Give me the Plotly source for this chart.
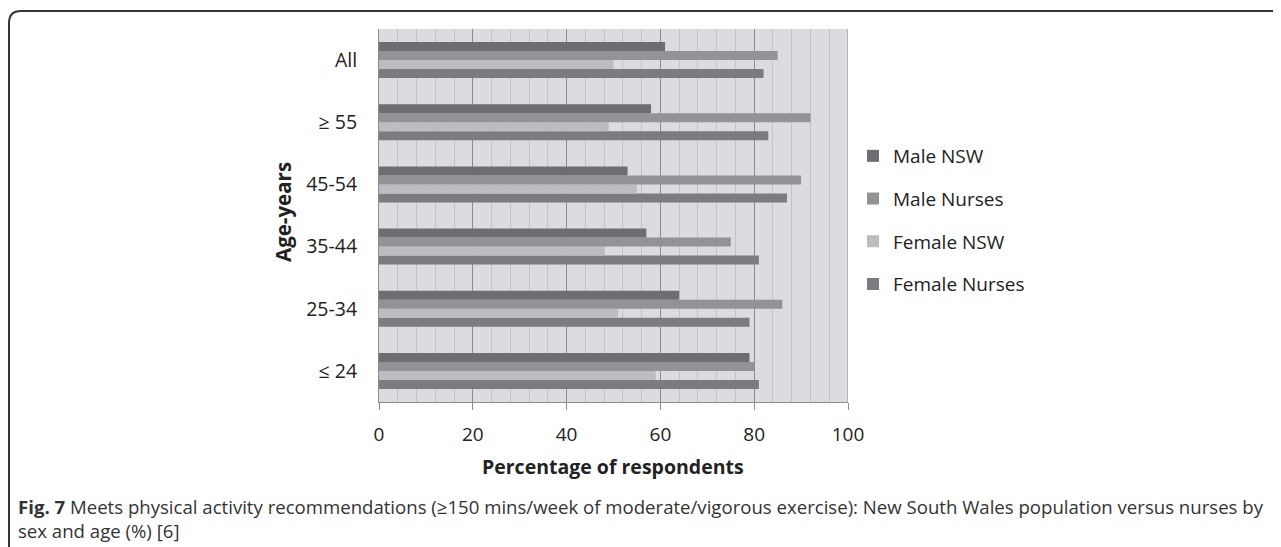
import plotly.graph_objects as go

categories = ["≤ 24", "25-34", "35-44", "45-54", "≥ 55", "All"]
male_nsw = [79, 64, 57, 53, 58, 61]
male_nurses = [80, 86, 75, 90, 92, 85]
female_nsw = [59, 51, 48, 55, 49, 50]
female_nurses = [81, 79, 81, 87, 83, 82]

series_names = ["Male NSW", "Male Nurses", "Female NSW", "Female Nurses"]
series_values = [male_nsw, male_nurses, female_nsw, female_nurses]
series_colors = ["#6e6e72", "#939397", "#bdbdc1", "#7c7c80"]

W, H = 1281, 547
OFF = 8  # page body margin of the browser
L, R, T, B = 379, 848, 29, 402  # plot area in screen pixels

def px(x):
    return (x - L) / (R - L)

def py(y):
    return (B - y) / (B - T)

FONT = "Open Sans, DejaVu Sans, sans-serif"
TXT = "#222222"

fig = go.Figure()
# plotly draws first trace at the bottom of each group -> add in reverse
entries = list(zip(range(len(series_names)), series_names, series_values, series_colors))
for rank, name, vals, col in reversed(entries):
    fig.add_trace(go.Bar(
        y=categories, x=vals, name=name, orientation="h",
        marker=dict(color=col, line=dict(width=0)),
        legendgroup=name, legendrank=rank + 1,
    ))

fig.update_layout(
    width=W - OFF, height=H - OFF,
    margin=dict(l=L - OFF, r=W - R, t=T - OFF, b=H - B),
    barmode="group", bargap=0.42, bargroupgap=0,
    plot_bgcolor="#dcdce0", paper_bgcolor="white",
    font=dict(family=FONT, size=19, color=TXT),
    legend=dict(
        x=px(853), y=py(137), xanchor="left", yanchor="top",
        traceorder="grouped", font=dict(size=19, color=TXT),
        tracegroupgap=15, itemwidth=30, bgcolor="rgba(0,0,0,0)",
    ),
    showlegend=True,
)

fig.update_xaxes(
    range=[0, 100], dtick=20, tick0=0,
    showgrid=True, gridcolor="#8c8c90", gridwidth=1,
    minor=dict(dtick=4, showgrid=True, gridcolor="#c2c2c6", gridwidth=1),
    ticks="outside", ticklen=7, tickcolor="#8c8c90", tickwidth=1,
    showline=True, linecolor="#8c8c90", linewidth=1,
    zeroline=False, tickfont=dict(size=19, color=TXT),
    ticklabelstandoff=8,
    fixedrange=True,
)
fig.update_yaxes(
    categoryorder="array", categoryarray=categories,
    showline=True, linecolor="#8c8c90", linewidth=1,
    showgrid=False, ticks="", ticklabelstandoff=17,
    tickfont=dict(size=19.5, color=TXT),
)

annotations = [
    dict(text="<b>Percentage of respondents</b>", x=px(613), y=py(466),
         xref="paper", yref="paper", showarrow=False,
         font=dict(size=19.5, color=TXT), xanchor="center", yanchor="middle"),
    dict(text="<b>Age-years</b>", x=px(283), y=py(212), textangle=-90,
         xref="paper", yref="paper", showarrow=False,
         font=dict(size=20.5, color=TXT), xanchor="center", yanchor="middle"),
    dict(text="<b>Fig. 7</b> Meets physical activity recommendations (≥150 mins/week of moderate/vigorous exercise): New South Wales population versus nurses by<br>sex and age (%) [6]",
         x=px(16), y=py(492), xref="paper", yref="paper", showarrow=False,
         align="left", xanchor="left", yanchor="top",
         font=dict(family=FONT, size=18.6, color="#333333")),
]
fig.update_layout(annotations=annotations)

# frame around figure with rounded top-left corner
r = 12
x0, yt = px(9), py(11)
path = (f"M {x0},{py(560)} L {x0},{py(11 + r)} "
        f"Q {x0},{yt} {px(9 + r)},{yt} L {px(1290)},{yt}")
fig.add_shape(type="path", path=path, xref="paper", yref="paper",
              line=dict(color="#333333", width=2))
# right border line of plot area at 100
fig.add_shape(type="line", xref="x", yref="paper", x0=100, x1=100, y0=0, y1=1,
              line=dict(color="#8c8c90", width=1))

fig.write_html("out.html")
